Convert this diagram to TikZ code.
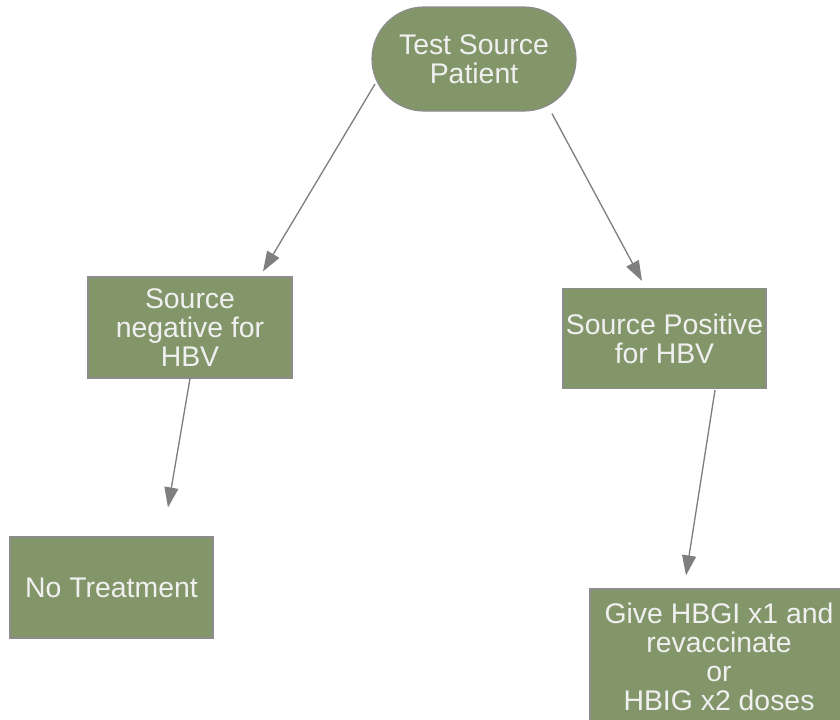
\documentclass[tikz,border=0pt]{standalone}
\usepackage{fontspec}
\setmainfont{Liberation Sans}
\usetikzlibrary{positioning, calc, shapes.misc, arrows.meta}
\definecolor{boxgreen}{RGB}{130,150,106}
\definecolor{boxline}{RGB}{140,140,140}
\definecolor{arrowgrey}{RGB}{127,127,127}
\definecolor{textwhite}{RGB}{240,240,240}

\begin{document}
\begin{tikzpicture}[x=0.75pt, y=-0.75pt,
  box/.style={rectangle, draw=boxline, line width=0.9pt, fill=boxgreen, text=textwhite, align=center, inner sep=0pt, font=\fontsize{21.3}{21.9}\selectfont},
  flow/.style={draw=arrowgrey, line width=1pt, -{Triangle[length=15pt, width=10.5pt]}}]
\useasboundingbox (0,0) rectangle (840,719);
% Draw the source test and its outcomes
\node[box, rounded rectangle, minimum width=153pt, minimum height=78pt] (src) at (474,59) {Test Source\\Patient};
\node[box, minimum width=153pt, minimum height=75.75pt] (neg) at (190,327.5) {Source\\negative for\\HBV};
\node[box, minimum width=152.25pt, minimum height=75pt] (pos) at (664.5,338.5) {Source Positive\\for HBV};
\node[box, minimum width=152.25pt, minimum height=75.75pt] (notreat) at (111.5,587.5) {No Treatment};
\node[box, minimum width=193.5pt, minimum height=102pt] (give) at (719,657) {Give HBGI x1 and\\revaccinate\\or\\HBIG x2 doses};

\draw[flow] ($(src.center)+(-99,25)$) -- ($(neg.north)+(73,-5)$);
\draw[flow] ($(src.south)+(78,2)$) -- ($(pos.north)+(-22.5,-7)$);
\draw[flow] (neg.south) -- ($(notreat.north)+(56.5,-29)$);
\draw[flow] ($(pos.south)+(50.5,1)$) -- ($(give.north)+(-33,-13)$);
\end{tikzpicture}
\end{document}
